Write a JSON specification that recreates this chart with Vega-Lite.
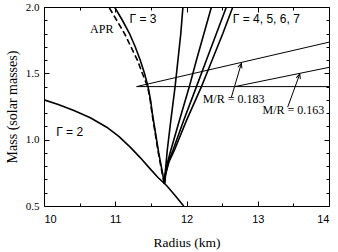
{
  "$schema": "https://vega.github.io/schema/vega-lite/v6.json",
  "width": 285,
  "height": 199,
  "autosize": {"type": "none"},
  "padding": {"left": 44, "top": 7, "right": 9, "bottom": 46},
  "background": "white",
  "config": {
    "view": {"stroke": "black", "strokeWidth": 1},
    "axis": {"grid": false, "domain": false, "tickColor": "black", "tickWidth": 1, "labelColor": "black", "titleColor": "black"}
  },
  "datasets": {
    "curves": [
      {"s": "g2", "r": 10.0, "m": 1.30},
      {"s": "g2", "r": 10.2, "m": 1.265},
      {"s": "g2", "r": 10.42, "m": 1.22},
      {"s": "g2", "r": 10.65, "m": 1.165},
      {"s": "g2", "r": 10.88, "m": 1.094},
      {"s": "g2", "r": 11.05, "m": 1.025},
      {"s": "g2", "r": 11.21, "m": 0.944},
      {"s": "g2", "r": 11.35, "m": 0.865},
      {"s": "g2", "r": 11.49, "m": 0.78},
      {"s": "g2", "r": 11.6, "m": 0.715},
      {"s": "g2", "r": 11.72, "m": 0.655},
      {"s": "g2", "r": 11.84, "m": 0.58},
      {"s": "g2", "r": 11.96, "m": 0.50},
      {"s": "g3", "r": 11.69, "m": 0.67},
      {"s": "g3", "r": 11.67, "m": 0.73},
      {"s": "g3", "r": 11.645, "m": 0.8},
      {"s": "g3", "r": 11.61, "m": 0.9},
      {"s": "g3", "r": 11.58, "m": 1.0},
      {"s": "g3", "r": 11.55, "m": 1.1},
      {"s": "g3", "r": 11.52, "m": 1.2},
      {"s": "g3", "r": 11.495, "m": 1.3},
      {"s": "g3", "r": 11.46, "m": 1.4},
      {"s": "g3", "r": 11.41, "m": 1.5},
      {"s": "g3", "r": 11.35, "m": 1.6},
      {"s": "g3", "r": 11.28, "m": 1.7},
      {"s": "g3", "r": 11.2, "m": 1.8},
      {"s": "g3", "r": 11.1, "m": 1.9},
      {"s": "g3", "r": 10.99, "m": 2.0},
      {"s": "g4", "r": 11.69, "m": 0.67},
      {"s": "g4", "r": 11.695, "m": 0.72},
      {"s": "g4", "r": 11.71, "m": 0.8},
      {"s": "g4", "r": 11.73, "m": 0.92},
      {"s": "g4", "r": 11.78, "m": 1.145},
      {"s": "g4", "r": 11.84, "m": 1.4},
      {"s": "g4", "r": 11.88, "m": 1.6},
      {"s": "g4", "r": 11.92, "m": 1.8},
      {"s": "g4", "r": 11.95, "m": 2.0},
      {"s": "g5", "r": 11.69, "m": 0.67},
      {"s": "g5", "r": 11.70, "m": 0.73},
      {"s": "g5", "r": 11.73, "m": 0.82},
      {"s": "g5", "r": 11.78, "m": 0.92},
      {"s": "g5", "r": 11.90, "m": 1.145},
      {"s": "g5", "r": 12.04, "m": 1.4},
      {"s": "g5", "r": 12.14, "m": 1.6},
      {"s": "g5", "r": 12.245, "m": 1.8},
      {"s": "g5", "r": 12.35, "m": 2.0},
      {"s": "g6", "r": 11.69, "m": 0.67},
      {"s": "g6", "r": 11.705, "m": 0.74},
      {"s": "g6", "r": 11.745, "m": 0.83},
      {"s": "g6", "r": 11.81, "m": 0.92},
      {"s": "g6", "r": 11.96, "m": 1.145},
      {"s": "g6", "r": 12.14, "m": 1.4},
      {"s": "g6", "r": 12.28, "m": 1.6},
      {"s": "g6", "r": 12.42, "m": 1.8},
      {"s": "g6", "r": 12.56, "m": 2.0},
      {"s": "g7", "r": 11.69, "m": 0.67},
      {"s": "g7", "r": 11.71, "m": 0.745},
      {"s": "g7", "r": 11.755, "m": 0.835},
      {"s": "g7", "r": 11.83, "m": 0.92},
      {"s": "g7", "r": 12.0, "m": 1.145},
      {"s": "g7", "r": 12.21, "m": 1.4},
      {"s": "g7", "r": 12.36, "m": 1.6},
      {"s": "g7", "r": 12.51, "m": 1.8},
      {"s": "g7", "r": 12.65, "m": 2.0}
    ],
    "apr": [
      {"s": "apr", "r": 11.685, "m": 0.67},
      {"s": "apr", "r": 11.665, "m": 0.73},
      {"s": "apr", "r": 11.64, "m": 0.8},
      {"s": "apr", "r": 11.605, "m": 0.9},
      {"s": "apr", "r": 11.575, "m": 1.0},
      {"s": "apr", "r": 11.545, "m": 1.1},
      {"s": "apr", "r": 11.515, "m": 1.2},
      {"s": "apr", "r": 11.49, "m": 1.3},
      {"s": "apr", "r": 11.455, "m": 1.4},
      {"s": "apr", "r": 11.38, "m": 1.5},
      {"s": "apr", "r": 11.31, "m": 1.6},
      {"s": "apr", "r": 11.22, "m": 1.7},
      {"s": "apr", "r": 11.13, "m": 1.8},
      {"s": "apr", "r": 11.02, "m": 1.9},
      {"s": "apr", "r": 10.91, "m": 2.0}
    ],
    "guides": [
      {"s": "m14", "r": 11.3, "m": 1.4},
      {"s": "m14", "r": 14.0, "m": 1.4},
      {"s": "mr183", "r": 11.3, "m": 1.4},
      {"s": "mr183", "r": 14.0, "m": 1.735},
      {"s": "mr163", "r": 12.68, "m": 1.4},
      {"s": "mr163", "r": 14.0, "m": 1.545}
    ],
    "arrows": [
      {"r": 12.63, "m": 1.32, "r2": 12.77, "m2": 1.575},
      {"r": 13.42, "m": 1.245, "r2": 13.59, "m2": 1.495}
    ],
    "sans": [
      {"t": "Γ = 3", "r": 11.39, "m": 1.91},
      {"t": "Γ = 4, 5, 6, 7", "r": 13.12, "m": 1.91},
      {"t": "Γ = 2", "r": 10.36, "m": 1.056}
    ],
    "serif": [
      {"t": "APR", "r": 10.81, "m": 1.836},
      {"t": "M/R = 0.183", "r": 12.66, "m": 1.303},
      {"t": "M/R = 0.163", "r": 13.5, "m": 1.22}
    ]
  },
  "resolve": {"axis": {"x": "independent", "y": "independent"}},
  "layer": [
    {
      "data": {"name": "curves"},
      "mark": {"type": "line", "stroke": "black", "strokeWidth": 1.6, "clip": true},
      "encoding": {
        "x": {"field": "r", "type": "quantitative", "scale": {"domain": [10, 14], "nice": false, "zero": false},
          "axis": {"orient": "bottom", "values": [10, 11, 12, 13, 14], "tickSize": -5, "labelPadding": 12, "labelFont": "Liberation Sans", "labelFontSize": 11, "format": "d",
            "title": "Radius (km)", "titleFont": "Liberation Serif", "titleFontSize": 13.5, "titleFontWeight": "normal", "titlePadding": 11}},
        "y": {"field": "m", "type": "quantitative", "scale": {"domain": [0.5, 2.0], "nice": false, "zero": false},
          "axis": {"orient": "left", "values": [0.5, 1.0, 1.5, 2.0], "tickSize": -5, "labelPadding": 10, "labelFont": "Liberation Serif", "labelFontSize": 11, "format": ".1f",
            "title": "Mass (solar masses)", "titleFont": "Liberation Serif", "titleFontSize": 14, "titleFontWeight": "normal", "titlePadding": 6}},
        "detail": {"field": "s"},
        "order": {"field": "m", "type": "quantitative"}
      }
    },
    {
      "data": {"name": "apr"},
      "mark": {"type": "line", "stroke": "black", "strokeWidth": 1.6, "strokeDash": [6, 3], "clip": true},
      "encoding": {
        "x": {"field": "r", "type": "quantitative", "scale": {"domain": [10, 14], "nice": false, "zero": false},
          "axis": {"orient": "bottom", "values": [10.5, 11.5, 12.5, 13.5], "tickSize": -3, "labels": false, "title": null}},
        "y": {"field": "m", "type": "quantitative", "scale": {"domain": [0.5, 2.0], "nice": false, "zero": false},
          "axis": {"orient": "left", "values": [0.6, 0.7, 0.8, 0.9, 1.1, 1.2, 1.3, 1.4, 1.6, 1.7, 1.8, 1.9], "tickSize": -3, "labels": false, "title": null}},
        "order": {"field": "m", "type": "quantitative"}
      }
    },
    {
      "data": {"name": "guides"},
      "mark": {"type": "line", "stroke": "black", "strokeWidth": 1, "clip": true},
      "encoding": {
        "x": {"field": "r", "type": "quantitative", "scale": {"domain": [10, 14], "nice": false, "zero": false},
          "axis": {"orient": "top", "values": [10, 11, 12, 13, 14], "tickSize": -5, "labels": false, "title": null}},
        "y": {"field": "m", "type": "quantitative", "scale": {"domain": [0.5, 2.0], "nice": false, "zero": false},
          "axis": {"orient": "right", "values": [0.5, 1.0, 1.5, 2.0], "tickSize": -5, "labels": false, "title": null}},
        "detail": {"field": "s"}
      }
    },
    {
      "data": {"name": "arrows"},
      "mark": {"type": "rule", "stroke": "black", "strokeWidth": 1},
      "encoding": {
        "x": {"field": "r", "type": "quantitative", "scale": {"domain": [10, 14], "nice": false, "zero": false},
          "axis": {"orient": "top", "values": [10.5, 11.5, 12.5, 13.5], "tickSize": -3, "labels": false, "title": null}},
        "y": {"field": "m", "type": "quantitative", "scale": {"domain": [0.5, 2.0], "nice": false, "zero": false},
          "axis": {"orient": "right", "values": [0.6, 0.7, 0.8, 0.9, 1.1, 1.2, 1.3, 1.4, 1.6, 1.7, 1.8, 1.9], "tickSize": -3, "labels": false, "title": null}},
        "x2": {"field": "r2"},
        "y2": {"field": "m2"}
      }
    },
    {
      "data": {"name": "arrows"},
      "mark": {"type": "point", "shape": "M-0.45,1L0,0L0.45,1", "filled": false, "stroke": "black", "strokeWidth": 1, "size": 90, "angle": 18, "opacity": 1},
      "encoding": {
        "x": {"field": "r2", "type": "quantitative", "scale": {"domain": [10, 14], "nice": false, "zero": false}, "axis": null},
        "y": {"field": "m2", "type": "quantitative", "scale": {"domain": [0.5, 2.0], "nice": false, "zero": false}, "axis": null}
      }
    },
    {
      "data": {"name": "sans"},
      "mark": {"type": "text", "font": "Liberation Sans", "fontSize": 12, "align": "center", "baseline": "middle", "color": "black"},
      "encoding": {
        "x": {"field": "r", "type": "quantitative", "scale": {"domain": [10, 14], "nice": false, "zero": false}, "axis": null},
        "y": {"field": "m", "type": "quantitative", "scale": {"domain": [0.5, 2.0], "nice": false, "zero": false}, "axis": null},
        "text": {"field": "t"}
      }
    },
    {
      "data": {"name": "serif"},
      "mark": {"type": "text", "font": "Liberation Serif", "fontSize": 12, "align": "center", "baseline": "middle", "color": "black"},
      "encoding": {
        "x": {"field": "r", "type": "quantitative", "scale": {"domain": [10, 14], "nice": false, "zero": false}, "axis": null},
        "y": {"field": "m", "type": "quantitative", "scale": {"domain": [0.5, 2.0], "nice": false, "zero": false}, "axis": null},
        "text": {"field": "t"}
      }
    }
  ]
}
